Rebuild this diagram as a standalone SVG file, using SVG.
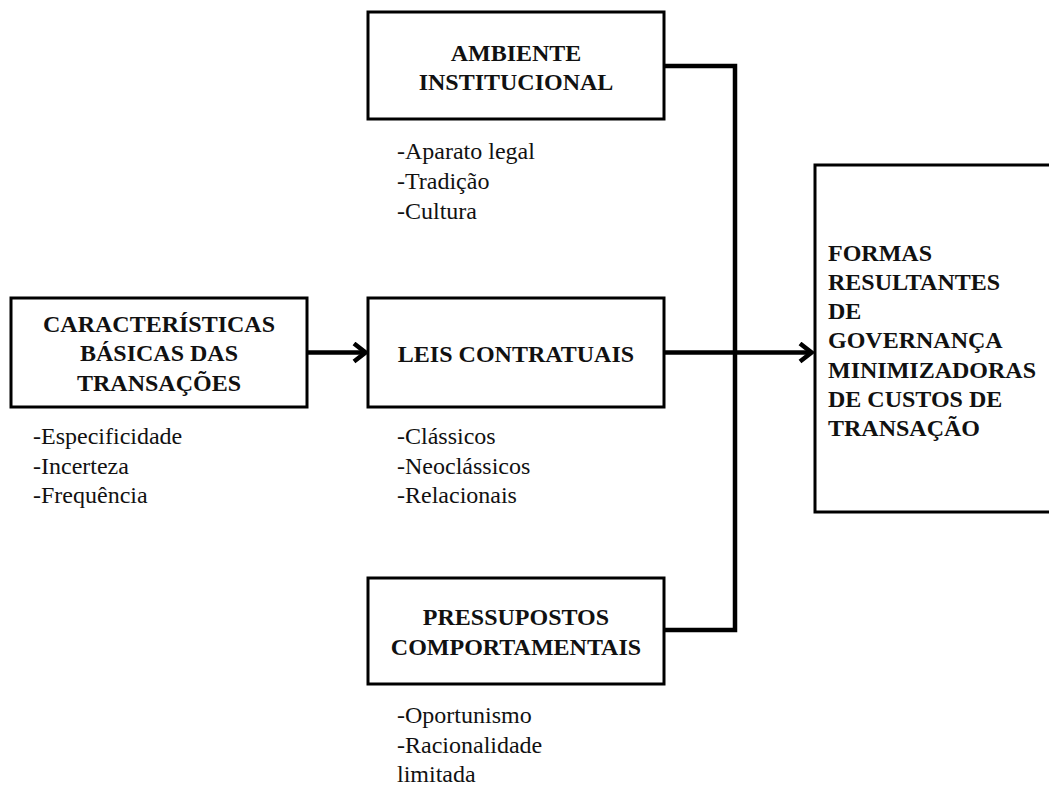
<svg xmlns="http://www.w3.org/2000/svg" width="1049" height="785" viewBox="0 0 1049 785">
<style>
.box{fill:#fff;stroke:#000;stroke-width:3}
.h{font-family:"Liberation Serif","Times New Roman",serif;font-size:24px;font-weight:bold;fill:#111}
.c{text-anchor:middle}
.t{font-family:"Liberation Serif","Times New Roman",serif;font-size:24px;fill:#111}
.ln{fill:none;stroke:#000;stroke-width:4.5}
</style>
<defs>
<marker id="arr" markerUnits="userSpaceOnUse" viewBox="0 0 16 22" refX="14" refY="11" markerWidth="16" markerHeight="22" orient="auto">
<path d="M2,2 L13.5,11 L2,20" fill="none" stroke="#000" stroke-width="4.5"/>
</marker>
</defs>
<rect width="1049" height="785" fill="#fff"/>
<g id="connectors">
<path class="ln" d="M307,352.5 H366" marker-end="url(#arr)"/>
<path class="ln" d="M664,352.5 H812" marker-end="url(#arr)"/>
<path class="ln" d="M664,66 H735 V630 H664"/>
</g>
<g id="caracteristicas">
<rect class="box" x="11" y="298" width="296" height="109"/>
<text class="h c" x="159" y="332">CARACTERÍSTICAS</text>
<text class="h c" x="159" y="361">BÁSICAS DAS</text>
<text class="h c" x="159" y="391">TRANSAÇÕES</text>
<text class="t" x="33" y="444">-Especificidade</text>
<text class="t" x="33" y="474">-Incerteza</text>
<text class="t" x="33" y="503">-Frequência</text>
</g>
<g id="ambiente">
<rect class="box" x="368" y="12" width="296" height="107"/>
<text class="h c" x="516" y="61">AMBIENTE</text>
<text class="h c" x="516" y="90">INSTITUCIONAL</text>
<text class="t" x="397" y="159">-Aparato legal</text>
<text class="t" x="397" y="189">-Tradição</text>
<text class="t" x="397" y="219">-Cultura</text>
</g>
<g id="leis">
<rect class="box" x="368" y="298" width="296" height="109"/>
<text class="h c" x="516" y="362">LEIS CONTRATUAIS</text>
<text class="t" x="397" y="444">-Clássicos</text>
<text class="t" x="397" y="474">-Neoclássicos</text>
<text class="t" x="397" y="503">-Relacionais</text>
</g>
<g id="pressupostos">
<rect class="box" x="368" y="578" width="296" height="106"/>
<text class="h c" x="516" y="625">PRESSUPOSTOS</text>
<text class="h c" x="516" y="655">COMPORTAMENTAIS</text>
<text class="t" x="397" y="723">-Oportunismo</text>
<text class="t" x="397" y="753">-Racionalidade</text>
<text class="t" x="397" y="782">limitada</text>
</g>
<g id="formas">
<rect class="box" x="815" y="165" width="245" height="347"/>
<text class="h" x="828" y="261">FORMAS</text>
<text class="h" x="828" y="290">RESULTANTES</text>
<text class="h" x="828" y="319">DE</text>
<text class="h" x="828" y="348">GOVERNANÇA</text>
<text class="h" x="828" y="378">MINIMIZADORAS</text>
<text class="h" x="828" y="407">DE CUSTOS DE</text>
<text class="h" x="828" y="436">TRANSAÇÃO</text>
</g>
</svg>
